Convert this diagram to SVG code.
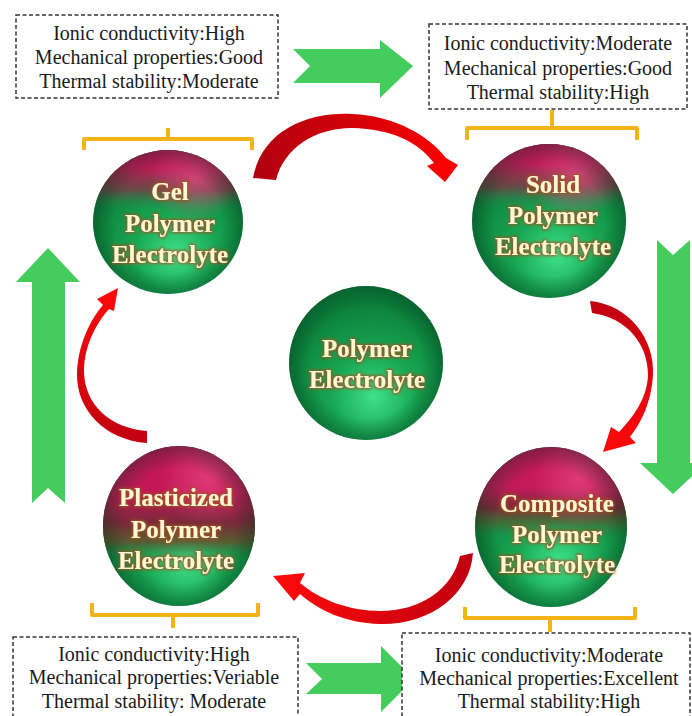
<svg xmlns="http://www.w3.org/2000/svg" width="692" height="716" viewBox="0 0 692 716">
<defs>
<style>
.box{fill:#fff;stroke:#333;stroke-width:1.5;stroke-dasharray:4 2.5}
.bt{font-family:'Liberation Serif','DejaVu Serif',serif;font-size:20px;fill:#1a1a1a;text-anchor:middle}
.st{font-family:'Liberation Serif','DejaVu Serif',serif;font-size:25px;font-weight:bold;fill:#fff6d2;text-anchor:middle}
.br{fill:none;stroke:#f5b416;stroke-width:4;stroke-linejoin:round}
.ga{fill:#44cc5c}
</style>
<radialGradient id="gBase" cx="0.55" cy="0.72" r="0.62">
<stop offset="0" stop-color="#3fe08a"/>
<stop offset="0.45" stop-color="#17a653"/>
<stop offset="1" stop-color="#0c7f3c"/>
</radialGradient>
<radialGradient id="edge" cx="0.5" cy="0.5" r="0.5">
<stop offset="0.72" stop-color="#003015" stop-opacity="0"/>
<stop offset="1" stop-color="#003015" stop-opacity="0.35"/>
</radialGradient>
<linearGradient id="mTop" x1="0" y1="0" x2="0" y2="1">
<stop offset="0" stop-color="#c8145a"/>
<stop offset="0.12" stop-color="#c41a5a"/>
<stop offset="0.28" stop-color="#8a3048" stop-opacity="0.7"/>
<stop offset="0.42" stop-color="#2a8a50" stop-opacity="0"/>
</linearGradient>
<linearGradient id="mPla" x1="0" y1="0" x2="0" y2="1">
<stop offset="0" stop-color="#c8145a"/>
<stop offset="0.3" stop-color="#c21858"/>
<stop offset="0.48" stop-color="#7a2a3a"/>
<stop offset="0.6" stop-color="#6a4a2a" stop-opacity="0.8"/>
<stop offset="0.72" stop-color="#1a8a4a" stop-opacity="0"/>
</linearGradient>
<linearGradient id="mCom" x1="0" y1="0" x2="0" y2="1">
<stop offset="0" stop-color="#c8145a"/>
<stop offset="0.25" stop-color="#c41a5a"/>
<stop offset="0.38" stop-color="#7a2a3a"/>
<stop offset="0.48" stop-color="#5a5a30" stop-opacity="0.6"/>
<stop offset="0.58" stop-color="#1a8a4a" stop-opacity="0"/>
</linearGradient>
<radialGradient id="pinkHi" cx="0.68" cy="0.2" r="0.3">
<stop offset="0" stop-color="#f0508a" stop-opacity="0.6"/>
<stop offset="1" stop-color="#f0508a" stop-opacity="0"/>
</radialGradient>
<linearGradient id="redL" x1="0" y1="0" x2="1" y2="0">
<stop offset="0" stop-color="#b00010"/>
<stop offset="0.5" stop-color="#d40008"/>
<stop offset="1" stop-color="#ff0000"/>
</linearGradient>
<linearGradient id="redV" x1="0" y1="0" x2="0" y2="1">
<stop offset="0" stop-color="#c00010"/>
<stop offset="1" stop-color="#ff0a0a"/>
</linearGradient>
<linearGradient id="redR" x1="1" y1="0" x2="0" y2="0">
<stop offset="0" stop-color="#c00010"/>
<stop offset="1" stop-color="#ff0a0a"/>
</linearGradient>
<linearGradient id="redU" x1="0" y1="1" x2="0" y2="0">
<stop offset="0" stop-color="#c00010"/>
<stop offset="1" stop-color="#ff0a0a"/>
</linearGradient>
<filter id="glow" x="-20%" y="-30%" width="140%" height="160%">
<feMorphology in="SourceAlpha" operator="dilate" radius="1.2" result="d"/>
<feGaussianBlur in="d" stdDeviation="1.5" result="b"/>
<feFlood flood-color="#a0501a" flood-opacity="0.9"/>
<feComposite in2="b" operator="in" result="g"/>
<feMerge><feMergeNode in="g"/><feMergeNode in="SourceGraphic"/></feMerge>
</filter>
</defs>

<rect width="692" height="716" fill="#fff"/>

<g id="connectors">
<path class="ga" d="M293,49 L380,49 L380,40 L413,66 L380,98 L380,83 L293,83 L310,66 Z"/>
<path class="ga" d="M306,663 L381,663 L381,646 L414,679 L381,712 L381,694 L306,694 L322,679 Z"/>
<path class="ga" d="M48,248 L80,282 L65,282 L65,503 L48,488 L32,503 L32,282 L16,282 Z"/>
<path class="ga" d="M657,240 L673,255 L690,240 L690,463 L706,463 L673,494 L640,463 L657,463 Z"/>

<path fill="url(#redL)" d="M253,178 C 262,130 308,112 352,114 C 395,116 428,135 446,158 L 458,165 L 445,182 L 427,166 L 434,163 C 418,142 392,129 352,128 C 315,128 284,148 276,180 Z"/>
<path fill="url(#redV)" d="M590,301 C 630,305 655,340 653,375 C 651,405 640,424 630,437 L 636,443 L 603,452 L 611,427 L 619,432 C 633,417 647,399 648,375 C 648,345 628,318 592,313 Z"/>
<path fill="url(#redR)" d="M473,553 C 470,595 430,625 380,624 C 345,623 318,610 300,594 L 294,601 L 273,576 L 305,573 L 300,583 C 320,600 350,611 380,611 C 420,611 452,590 460,556 Z"/>
<path fill="url(#redU)" d="M147,443 C 105,440 76,410 77,373 C 78,345 90,320 103,305 L 97,299 L 118,288 L 114,311 L 109,309 C 95,325 84,347 84,372 C 85,405 110,428 147,431 Z"/>

<path class="br" d="M84,150 L84,139 L252,139 L252,150 M168,139 L168,128"/>
<path class="br" d="M467,140 L467,128 L637,128 L637,140 M552,128 L552,110"/>
<path class="br" d="M92,603 L92,615 L258,615 L258,603 M173,615 L173,628"/>
<path class="br" d="M465,607 L465,618 L635,618 L635,607 M550,618 L550,632"/>
</g>

<g id="box-gel" font-family="Liberation Serif, DejaVu Serif, serif">
<rect class="box" x="16" y="15" width="262" height="83"/>
<text class="bt" x="149" y="40">Ionic conductivity:High</text>
<text class="bt" x="149" y="64">Mechanical properties:Good</text>
<text class="bt" x="149" y="88">Thermal stability:Moderate</text>
</g>
<g id="box-solid" font-family="Liberation Serif, DejaVu Serif, serif">
<rect class="box" x="429" y="24" width="258" height="85"/>
<text class="bt" x="558" y="50">Ionic conductivity:Moderate</text>
<text class="bt" x="558" y="75">Mechanical properties:Good</text>
<text class="bt" x="558" y="99">Thermal stability:High</text>
</g>
<g id="box-plasticized" font-family="Liberation Serif, DejaVu Serif, serif">
<rect class="box" x="13" y="637" width="285" height="90"/>
<text class="bt" x="154" y="661">Ionic conductivity:High</text>
<text class="bt" x="154" y="684">Mechanical properties:Veriable</text>
<text class="bt" x="154" y="708">Thermal stability: Moderate</text>
</g>
<g id="box-composite" font-family="Liberation Serif, DejaVu Serif, serif">
<rect class="box" x="402" y="633" width="288" height="95"/>
<text class="bt" x="549" y="662">Ionic conductivity:Moderate</text>
<text class="bt" x="549" y="685">Mechanical properties:Excellent</text>
<text class="bt" x="549" y="708">Thermal stability:High</text>
</g>

<g id="gel">
<ellipse cx="168" cy="222" rx="75" ry="72" fill="url(#gBase)"/>
<ellipse cx="168" cy="222" rx="75" ry="72" fill="url(#mTop)"/>
<ellipse cx="168" cy="222" rx="75" ry="72" fill="url(#pinkHi)"/>
<ellipse cx="168" cy="222" rx="75" ry="72" fill="url(#edge)"/>
<g filter="url(#glow)">
<text class="st" x="170" y="200">Gel</text>
<text class="st" x="170" y="232">Polymer</text>
<text class="st" x="170" y="263">Electrolyte</text>
</g>
</g>

<g id="solid">
<ellipse cx="549" cy="221" rx="77" ry="77" fill="url(#gBase)"/>
<ellipse cx="549" cy="221" rx="77" ry="77" fill="url(#mTop)"/>
<ellipse cx="549" cy="221" rx="77" ry="77" fill="url(#pinkHi)"/>
<ellipse cx="549" cy="221" rx="77" ry="77" fill="url(#edge)"/>
<g filter="url(#glow)">
<text class="st" x="553" y="193">Solid</text>
<text class="st" x="553" y="224">Polymer</text>
<text class="st" x="553" y="255">Electrolyte</text>
</g>
</g>

<g id="center">
<ellipse cx="366" cy="363" rx="77" ry="77" fill="url(#gBase)"/>
<ellipse cx="366" cy="363" rx="77" ry="77" fill="url(#edge)"/>
<g filter="url(#glow)">
<text class="st" x="367" y="357">Polymer</text>
<text class="st" x="367" y="388">Electrolyte</text>
</g>
</g>

<g id="plasticized">
<ellipse cx="179" cy="526" rx="76" ry="80" fill="url(#gBase)"/>
<ellipse cx="179" cy="526" rx="76" ry="80" fill="url(#mPla)"/>
<ellipse cx="179" cy="526" rx="76" ry="80" fill="url(#pinkHi)"/>
<ellipse cx="179" cy="526" rx="76" ry="80" fill="url(#edge)"/>
<g filter="url(#glow)">
<text class="st" x="176" y="506">Plasticized</text>
<text class="st" x="176" y="538">Polymer</text>
<text class="st" x="176" y="569">Electrolyte</text>
</g>
</g>

<g id="composite">
<ellipse cx="551" cy="527" rx="76" ry="80" fill="url(#gBase)"/>
<ellipse cx="551" cy="527" rx="76" ry="80" fill="url(#mCom)"/>
<ellipse cx="551" cy="527" rx="76" ry="80" fill="url(#pinkHi)"/>
<ellipse cx="551" cy="527" rx="76" ry="80" fill="url(#edge)"/>
<g filter="url(#glow)">
<text class="st" x="557" y="512">Composite</text>
<text class="st" x="557" y="543">Polymer</text>
<text class="st" x="557" y="573">Electrolyte</text>
</g>
</g>
</svg>
